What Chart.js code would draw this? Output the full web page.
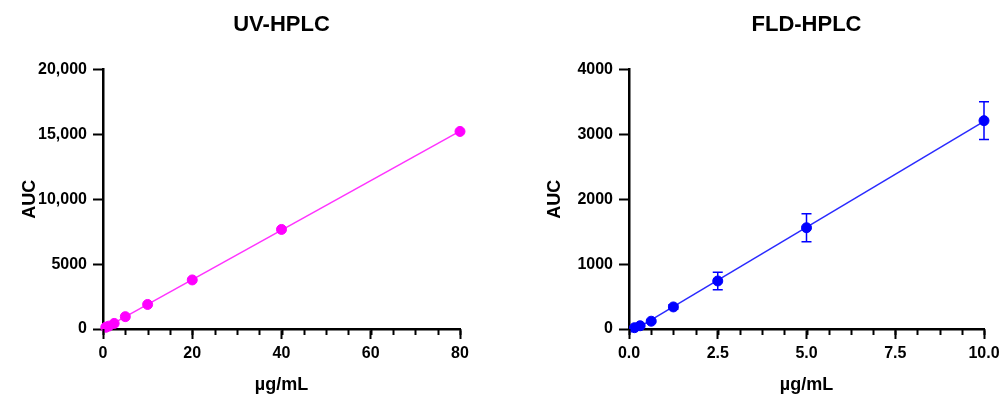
<!DOCTYPE html>
<html>
<head>
<meta charset="utf-8">
<script src="https://cdn.jsdelivr.net/npm/chart.js@4.4.1/dist/chart.umd.min.js"></script>
<style>
  html, body { margin: 0; padding: 0; background: #fff; }
  #wrap { position: relative; width: 1005px; height: 401px; }
  canvas { position: absolute; top: 0; }
  #uvChart { left: 0; }
  #fldChart { left: 525px; }
</style>
</head>
<body>
<div id="wrap">
  <canvas id="uvChart" width="525" height="401"></canvas>
  <canvas id="fldChart" width="480" height="401"></canvas>
</div>
<script>
  // UV-HPLC calibration (µg/mL vs AUC)
  const uvConc = [0.625, 1.25, 2.5, 5, 10, 20, 40, 80];
  const uvAuc = [130, 220, 430, 950, 1890, 3780, 7670, 15220];

  // FLD-HPLC calibration with SD
  const fldConc = [0.156, 0.3125, 0.625, 1.25, 2.5, 5, 10];
  const fldAuc = [20, 50, 120, 340, 740, 1560, 3210];
  const fldErr = [8, 12, 20, 35, 135, 215, 290];

  const uvXTicks = { min: 0, max: 80, step: 20, minor: 5 };
  const uvYTicks = { min: 0, max: 20000, step: 5000 };
  const fldXTicks = { min: 0, max: 10, step: 2.5, minor: 0.625 };
  const fldYTicks = { min: 0, max: 4000, step: 1000 };

  Chart.defaults.font.family = "'Liberation Sans', Arial, sans-serif";
  Chart.defaults.color = '#000';

  // least squares line through the calibration points
  function fitLine(xs, ys, xMax) {
    const n = xs.length;
    const mx = xs.reduce((a, b) => a + b, 0) / n;
    const my = ys.reduce((a, b) => a + b, 0) / n;
    let sxy = 0, sxx = 0;
    for (let i = 0; i < n; i++) {
      sxy += (xs[i] - mx) * (ys[i] - my);
      sxx += (xs[i] - mx) * (xs[i] - mx);
    }
    const m = sxy / sxx;
    const b = my - m * mx;
    return [{ x: 0, y: b }, { x: xMax, y: m * xMax + b }];
  }

  /* error bars + minor x ticks */
  const extrasPlugin = {
    id: 'extras',
    afterDatasetsDraw(chart, args, opts) {
      const ctx = chart.ctx;
      if (opts.err) {
        const yScale = chart.scales.y;
        const meta = chart.getDatasetMeta(0);
        const vals = chart.data.datasets[0].data;
        ctx.save();
        ctx.strokeStyle = opts.color;
        ctx.lineWidth = 1.5;
        meta.data.forEach((pt, i) => {
          const e = opts.err[i];
          const top = yScale.getPixelForValue(vals[i].y + e);
          const bot = yScale.getPixelForValue(vals[i].y - e);
          ctx.beginPath();
          ctx.moveTo(pt.x, top); ctx.lineTo(pt.x, bot);
          ctx.moveTo(pt.x - 5, top); ctx.lineTo(pt.x + 5, top);
          ctx.moveTo(pt.x - 5, bot); ctx.lineTo(pt.x + 5, bot);
          ctx.stroke();
        });
        ctx.restore();
      }
    },
    afterDraw(chart, args, opts) {
      if (!opts.minor) return;
      const ctx = chart.ctx;
      const xScale = chart.scales.x;
      const y0 = chart.chartArea.bottom;
      ctx.save();
      ctx.strokeStyle = '#000';
      ctx.lineWidth = 2;
      for (let v = xScale.min; v <= xScale.max + 1e-9; v += opts.minor) {
        const px = Math.round(xScale.getPixelForValue(v)) + 0.5;
        ctx.beginPath();
        ctx.moveTo(px, y0);
        ctx.lineTo(px, y0 + 6);
        ctx.stroke();
      }
      ctx.restore();
    }
  };

  function makeChart(id, o) {
    const axisBase = {
      type: 'linear',
      border: { color: '#000', width: 2.5 },
      grid: { drawOnChartArea: false, drawTicks: true, tickLength: 10, tickWidth: 2, tickColor: '#000' }
    };
    return new Chart(document.getElementById(id), {
      type: 'scatter',
      data: {
        datasets: [{
          data: o.xs.map((x, i) => ({ x: x, y: o.ys[i] })),
          backgroundColor: o.color,
          borderColor: o.color,
          pointRadius: 5,
          pointHoverRadius: 5,
          showLine: false,
          clip: false
        }, {
          type: 'line',
          data: fitLine(o.xs, o.ys, o.xt.max),
          borderColor: o.lineColor,
          borderWidth: 1.5,
          pointRadius: 0,
          fill: false,
          clip: false
        }]
      },
      options: {
        responsive: false,
        animation: false,
        layout: { padding: { left: 0, right: o.padRight, top: 0, bottom: 0 } },
        plugins: {
          legend: { display: false },
          tooltip: { enabled: false },
          title: {
            display: true,
            text: o.title,
            fullSize: false,
            color: '#000',
            font: { size: 22, weight: 'bold' },
            padding: { top: 12, bottom: 31 }
          },
          extras: { err: o.err, color: o.color, minor: o.xt.minor }
        },
        scales: {
          x: Object.assign({}, axisBase, {
            min: o.xt.min, max: o.xt.max,
            ticks: {
              stepSize: o.xt.step, padding: 5, maxRotation: 0,
              font: { size: 16, weight: 'bold' }, color: '#000',
              callback: o.xLabel
            },
            title: {
              display: true, text: 'µg/mL', color: '#000',
              font: { size: 18, weight: 'bold' },
              padding: { top: 0, bottom: 5 }
            },
            afterFit: s => { s.height = 72; }
          }),
          y: Object.assign({}, axisBase, {
            min: o.yt.min, max: o.yt.max,
            ticks: {
              stepSize: o.yt.step, padding: 6,
              font: { size: 16, weight: 'bold' }, color: '#000',
              callback: v => v >= 10000 ? v.toLocaleString('en-US') : String(v)
            },
            title: {
              display: true, text: 'AUC', color: '#000',
              font: { size: 18, weight: 'bold' },
              padding: { top: 19, bottom: 0 }
            },
            afterFit: s => { s.width = o.yWidth; }
          })
        }
      },
      plugins: [extrasPlugin]
    });
  }

  window.addEventListener('load', function () {
    makeChart('uvChart', {
      title: 'UV-HPLC', xs: uvConc, ys: uvAuc, err: null,
      color: '#ff00ff', lineColor: '#ff33ff',
      xt: uvXTicks, yt: uvYTicks, yWidth: 103, padRight: 65,
      xLabel: v => String(v)
    });
    makeChart('fldChart', {
      title: 'FLD-HPLC', xs: fldConc, ys: fldAuc, err: fldErr,
      color: '#0000ff', lineColor: '#2a2aff',
      xt: fldXTicks, yt: fldYTicks, yWidth: 104, padRight: 21,
      xLabel: v => v.toFixed(1)
    });
  });
</script>
</body>
</html>
